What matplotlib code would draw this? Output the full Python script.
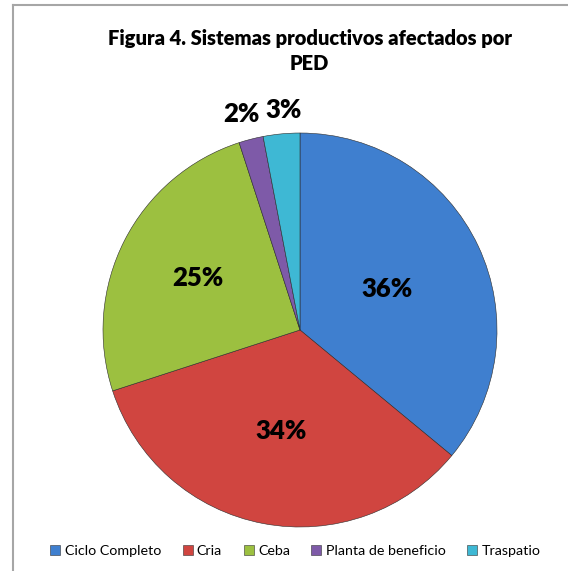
import matplotlib
matplotlib.use("Agg")
import matplotlib.pyplot as plt
from matplotlib.lines import Line2D
import numpy as np

categories = ["Ciclo Completo", "Cria", "Ceba", "Planta de beneficio", "Traspatio"]
values = [36, 34, 25, 2, 3]
colors = ["#3F7FCF", "#D04540", "#9CC040", "#7E5AA8", "#3EB8D4"]
label_dist = [0.49, 0.52, 0.58, 1.13, 1.12]
label_shift = [0, 0, 0, -2, 3]  # small horizontal nudge (points) for the outside labels

plt.rcParams['font.family'] = ['Lato', 'DejaVu Sans']

fig = plt.figure(figsize=(5.68, 5.71), dpi=100)

# frame of the chart area (cropped on right / bottom)
fig.add_artist(Line2D([13 / 568, 1], [1 - 5 / 571, 1 - 5 / 571], color="#A6A6A6", lw=1.5))
fig.add_artist(Line2D([13 / 568, 13 / 568], [0, 1 - 5 / 571], color="#A6A6A6", lw=1.5))

ax = fig.add_axes([103 / 568, 44 / 571, 394 / 568, 394 / 571])
wedges, _ = ax.pie(values, colors=colors, startangle=90, counterclock=False,
                   radius=1, wedgeprops=dict(edgecolor="#2b2b2b", linewidth=0.4))
ax.set_xlim(-1, 1)
ax.set_ylim(-1, 1)

total = sum(values)
cum = 0
for v, d, s in zip(values, label_dist, label_shift):
    mid = np.deg2rad(90 - (cum + v / 2) / total * 360)
    cum += v
    ax.annotate(f"{v}%", (d * np.cos(mid), d * np.sin(mid)), xytext=(s, 0),
                textcoords="offset points", ha="center", va="center",
                fontsize=18.5, fontweight="heavy", color="black", annotation_clip=False)

fig.text(0.545, 1 - 51 / 571, "Figura 4. Sistemas productivos afectados por\nPED",
         ha="center", va="center", fontsize=14.5, fontweight="heavy", linespacing=1.4)

handles = [plt.Rectangle((0, 0), 1, 1, facecolor=c, edgecolor="#333333", lw=0.4) for c in colors]
fig.legend(handles, categories, loc="center", bbox_to_anchor=(0.52, 1 - 551 / 571), ncol=5,
           frameon=False, fontsize=10.3, handlelength=0.7, handleheight=0.7,
           handletextpad=0.3, columnspacing=1.5)

fig.savefig("out.png", dpi=100)
